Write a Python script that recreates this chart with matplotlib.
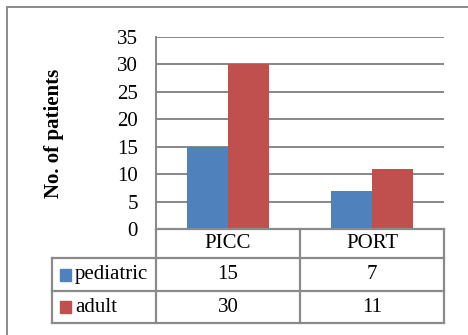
import matplotlib
matplotlib.use("Agg")
import matplotlib.pyplot as plt
from matplotlib.lines import Line2D
from matplotlib.patches import Rectangle
from matplotlib.transforms import blended_transform_factory

categories = ["PICC", "PORT"]
series_names = ["pediatric", "adult"]
pediatric = [15, 7]
adult = [30, 11]
yticks = [0, 5, 10, 15, 20, 25, 30, 35]
ylabel = "No. of patients"

colors = ["#4F81BD", "#C0504D"]
grid_col = "#878787"
W, H = 468, 335
plt.rcParams['font.family'] = ['Liberation Serif', 'DejaVu Serif']
FS = 15

fig = plt.figure(figsize=(W / 100, H / 100), dpi=100)

def fx(x):
    return x / W

def fy(y):
    return 1 - y / H

# plot area in pixels
L, R, T, B = 156, 444, 37, 229
ax = fig.add_axes([fx(L), fy(B), fx(R) - fx(L), fy(T) - fy(B)])

n = len(categories)
xs = list(range(n))
bw = 1 / 3.5
ax.bar([x - bw / 2 for x in xs], pediatric, width=bw, color=colors[0], zorder=3)
ax.bar([x + bw / 2 for x in xs], adult, width=bw, color=colors[1], zorder=3)
ax.set_xlim(-0.5, n - 0.5)
ax.set_ylim(0, 35)
ax.set_yticks(yticks)
ax.set_yticklabels([str(t) for t in yticks], fontsize=FS)
ax.tick_params(axis='y', length=0, pad=13)
ax.set_xticks([])
ax.yaxis.grid(True, color=grid_col, linewidth=1.4, zorder=0)
ax.set_axisbelow(True)
for s in ["top", "right", "bottom"]:
    ax.spines[s].set_visible(False)
ax.spines["left"].set_color(grid_col)
ax.spines["left"].set_linewidth(1.4)

fig.text(fx(54), fy(133), ylabel, rotation=90, ha='center', va='center',
         fontsize=FS, fontweight='bold')

# data table
lw = 1.6
tc = "#8a8a8a"
def hline(x0, x1, y):
    fig.add_artist(Line2D([fx(x0), fx(x1)], [fy(y), fy(y)], color=tc, lw=lw,
                          transform=fig.transFigure))
def vline(x, y0, y1):
    fig.add_artist(Line2D([fx(x), fx(x)], [fy(y0), fy(y1)], color=tc, lw=lw,
                          transform=fig.transFigure))

LT = 52
rows_y = [229, 258, 291, 323]
hline(L, R, rows_y[0])
for y in rows_y[1:]:
    hline(LT, R, y)
vline(L, rows_y[0], rows_y[-1])
vline((L + R) / 2, rows_y[0], rows_y[-1])
vline(R, rows_y[0], rows_y[-1])
vline(LT, rows_y[1], rows_y[-1])

bt = blended_transform_factory(ax.transData, fig.transFigure)
for i, c in enumerate(categories):
    fig.text(xs[i], fy((rows_y[0] + rows_y[1]) / 2), c, transform=bt,
             ha='center', va='center', fontsize=FS)
for r, vals in enumerate([pediatric, adult]):
    yc = fy((rows_y[r + 1] + rows_y[r + 2]) / 2)
    for i, v in enumerate(vals):
        fig.text(xs[i], yc, str(v), transform=bt, ha='center', va='center', fontsize=FS)
    fig.add_artist(Rectangle((fx(60), yc - 6 / H), 11 / W, 12 / H,
                             color=colors[r], transform=fig.transFigure))
    fig.text(fx(75), yc, series_names[r], ha='left', va='center', fontsize=FS)

# outer frame
fig.add_artist(Rectangle((fx(7), fy(345)), fx(470) - fx(7), fy(7) - fy(345),
                         fill=False, edgecolor=tc, lw=1.4, transform=fig.transFigure))

fig.savefig("out.png", dpi=100)
